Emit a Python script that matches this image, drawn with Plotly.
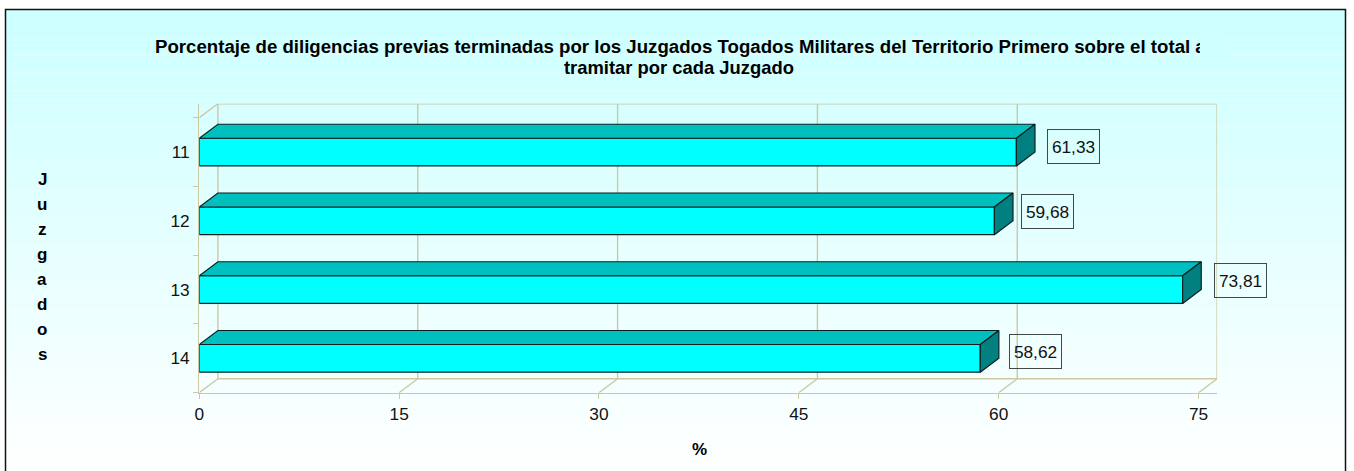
import plotly.graph_objects as go

categories = ["11", "12", "13", "14"]
values = [61.33, 59.68, 73.81, 58.62]
value_labels = ["61,33", "59,68", "73,81", "58,62"]
x_ticks = [0, 15, 30, 45, 60, 75]
label_x_gap = [31, 27, 31, 29]
label_y_lift = [5.5, 9, 9, 7]
y_title_letters = list("Juzgados")
title_line_1 = ("Porcentaje de diligencias previas terminadas por los Juzgados Togados "
                "Militares del Territorio Primero sobre el total a")
title_line_2 = "tramitar por cada Juzgado"

W, H = 1354, 471
X0, X75, Y_BOT, Y_TOP = 199.3, 1198.5, 392.7, 117.7
PX_X = (X75 - X0) / 75
PX_Y = (Y_BOT - Y_TOP) / 4
DX = 18.6 / PX_X
DY = 14 / PX_Y
BAR_W = 27.7 / PX_Y
FONT = "Liberation Sans, Arial, sans-serif"
GRID = "#CCC8A2"
TICK_SIZE = 17.3
BOLD_SIZE = 17

n = len(categories)
y_pos = [n - i - 0.5 for i in range(n)]
x_top = 75 + DX
y_top = n + DY
dom_x = [X0 / W, (X0 + x_top * PX_X) / W]
dom_y = [1 - Y_BOT / H, 1 - (Y_BOT - y_top * PX_Y) / H]

shapes = []
# vertical gradient background, one strip per 8-bit colour step
steps = 51
top_px, bot_px = 9, 471
for s in range(steps):
    a = top_px + (bot_px - top_px) * s / steps
    b = top_px + (bot_px - top_px) * (s + 1) / steps
    shapes.append(dict(type="rect", xref="paper", yref="paper", layer="below",
                       x0=5 / W, x1=1346 / W, y0=1 - a / H, y1=1 - b / H,
                       fillcolor=f"rgb({204 + s},255,255)", line_width=0))


def grid(x0, y0, x1, y1):
    shapes.append(dict(type="line", xref="x", yref="y", layer="below",
                       x0=x0, y0=y0, x1=x1, y1=y1,
                       line=dict(color=GRID, width=1.4)))


grid(DX, DY, DX, y_top)
grid(0, n, DX, y_top)
grid(DX, y_top, x_top, y_top)
grid(DX, DY, x_top, DY)
for t in x_ticks:
    grid(t, 0, t + DX, DY)
    if t:
        grid(t + DX, DY, t + DX, y_top)

fig = go.Figure()
fig.add_trace(go.Bar(x=values, y=y_pos, orientation="h", width=BAR_W,
                     marker=dict(color="#00FFFF", line=dict(color="#0A2020", width=1.2)),
                     hoverinfo="skip", showlegend=False))
for v, y in zip(values, y_pos):
    t, b = y + BAR_W / 2, y - BAR_W / 2
    fig.add_trace(go.Scatter(x=[0, DX, v + DX, v, 0], y=[t, t + DY, t + DY, t, t],
                             mode="lines", fill="toself", fillcolor="#00BFBF",
                             line=dict(color="#0A2020", width=1.2),
                             hoverinfo="skip", showlegend=False))
    fig.add_trace(go.Scatter(x=[v, v + DX, v + DX, v, v], y=[t, t + DY, b + DY, b, t],
                             mode="lines", fill="toself", fillcolor="#008080",
                             line=dict(color="#0A2020", width=1.2),
                             hoverinfo="skip", showlegend=False))

annotations = []
for i, (v, y, lab) in enumerate(zip(values, y_pos, value_labels)):
    annotations.append(dict(x=v, y=y, xref="x", yref="y", text=lab, showarrow=False,
                            xanchor="left", yanchor="middle",
                            xshift=label_x_gap[i], yshift=label_y_lift[i],
                            width=51, height=33, borderpad=0, borderwidth=1,
                            bordercolor="#404848", align="center",
                            font=dict(family=FONT, size=TICK_SIZE, color="#111111")))
bold = dict(family=FONT, size=BOLD_SIZE, color="#000000", weight="bold")
for i, ch in enumerate(y_title_letters):
    annotations.append(dict(x=42 / W, y=1 - (179 + 25 * i) / H, xref="paper", yref="paper",
                            text=ch, showarrow=False, xanchor="center", yanchor="middle",
                            font=bold))
annotations.append(dict(x=699 / W, y=1 - 449 / H, xref="paper", yref="paper", text="%",
                        showarrow=False, xanchor="center", yanchor="middle", font=bold))
annotations.append(dict(x=152.5 / W, y=1 - 47 / H, xref="paper", yref="paper", text=title_line_1,
                        showarrow=False, xanchor="left", yanchor="middle",
                        font=dict(family=FONT, size=18.65, color="#000000", weight="bold")))
annotations.append(dict(x=678.5 / W, y=1 - 68 / H, xref="paper", yref="paper", text=title_line_2,
                        showarrow=False, xanchor="center", yanchor="middle",
                        font=dict(family=FONT, size=18.4, color="#000000", weight="bold")))
# the reference cuts the first title line off at the edge of its text box
annotations.append(dict(x=1199.5 / W, y=1 - 47 / H, xref="paper", yref="paper", text=" ",
                        showarrow=False, xanchor="left", yanchor="middle", width=26, height=26,
                        bgcolor="rgb(208,255,255)", borderwidth=0, borderpad=0))

# frame (its lower edge lies just below the window)
shapes.append(dict(type="rect", xref="paper", yref="paper", layer="above",
                   x0=5.5 / W, x1=1345.5 / W, y0=1 - 9.5 / H, y1=1 - 474 / H,
                   line=dict(color="#111111", width=1.5)))

fig.update_layout(
    width=W, height=H, autosize=False,
    margin=dict(l=0, r=0, t=0, b=0, pad=0, autoexpand=False),
    paper_bgcolor="#FFFFFF", plot_bgcolor="rgba(0,0,0,0)",
    shapes=shapes, annotations=annotations, showlegend=False,
    xaxis=dict(domain=dom_x, range=[0, x_top], tickmode="array", tickvals=x_ticks,
               ticktext=[str(t) for t in x_ticks], ticks="outside", ticklen=5, tickwidth=1.4,
               tickcolor=GRID, showgrid=False, zeroline=False, showline=True,
               linecolor=GRID, linewidth=1.4,
               tickfont=dict(family=FONT, size=TICK_SIZE, color="#111111")),
    yaxis=dict(domain=dom_y, range=[0, y_top], tickmode="array", tickvals=y_pos,
               ticktext=categories, ticks="outside", ticklen=5, tickcolor="rgba(0,0,0,0)",
               showgrid=False, zeroline=False, showline=True, linecolor=GRID, linewidth=1.4,
               minor=dict(tickmode="array", tickvals=list(range(n + 1)), ticks="outside",
                          ticklen=5, tickcolor=GRID, tickwidth=1.4, showgrid=False),
               tickfont=dict(family=FONT, size=TICK_SIZE, color="#111111")),
)
fig.write_html("out.html", config=dict(displayModeBar=False),
               post_script="document.body.style.margin='0';document.documentElement.style.overflow='hidden';")
